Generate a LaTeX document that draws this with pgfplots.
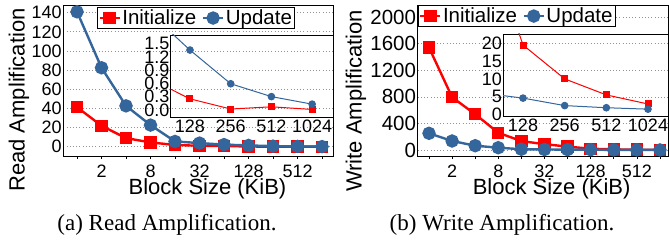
\documentclass[border=0pt]{standalone}
\usepackage{fontspec}
\setmainfont{Liberation Sans}
\newfontfamily\capfont{Liberation Serif}
\usepackage{pgfplots}
\pgfplotsset{compat=1.18}
\definecolor{myred}{RGB}{255,0,0}
\definecolor{myblue}{RGB}{52,101,155}
\pgfplotsset{
  mainax/.style={
    scale only axis, anchor=south west,
    axis line style={line width=0.9pt},
    /pgf/number format/assume math mode=true,
    /pgf/number format/1000 sep={},
    scaled y ticks=false,
    ymajorgrids,
    grid style={draw=gray!85, line width=0.8pt, dash pattern=on 0.8pt off 2.4pt},
    xtick={0,...,10}, xticklabels={,2,,8,,32,,128,,512,},
    tick align=outside, major tick length=3pt,
    xtick pos=left, ytick pos=left,
    ytick style={draw=none},
    xtick style={black, line width=0.6pt},
    tick label style={font=\fontsize{18}{18}\selectfont},
    yticklabel style={inner sep=1pt, xshift=2.5pt},
    xticklabel style={inner sep=1pt, yshift=-5pt},
    label style={font=\fontsize{22}{22}\selectfont},
    legend columns=2, legend cell align=left,
    legend style={font=\fontsize{20.5}{21}\selectfont, draw=black, line width=0.8pt,
      fill=white, inner sep=1pt, nodes={inner sep=1.5pt},
      /tikz/every even column/.append style={column sep=4pt}},
    legend image code/.code={\draw[mark repeat=2,mark phase=2,##1] plot coordinates {(0pt,0pt) (10pt,0pt) (20pt,0pt)};},
  },
  insetax/.style={
    scale only axis, anchor=south west,
    axis line style={line width=0.8pt},
    /pgf/number format/assume math mode=true,
    xtick={0,1,2,3}, xticklabels={128,256,512,1024},
    tick style={draw=none},
    tick label style={font=\fontsize{18}{18}\selectfont},
    yticklabel style={inner sep=1pt},
    xticklabel style={inner sep=1pt, yshift=-1.5pt},
    clip marker paths=true,
  },
  ini/.style={myred, line width=2.4pt, mark=square*, mark size=5pt, mark options={solid}},
  upd/.style={myblue, line width=2.4pt, mark=*, mark size=5.5pt, mark options={solid}},
  inis/.style={myred, line width=1pt, mark=square*, mark size=3pt, mark options={solid}},
  upds/.style={myblue, line width=1pt, mark=*, mark size=3.3pt, mark options={solid}},
}
\begin{document}
\begin{tikzpicture}
\useasboundingbox (0pt,0pt) rectangle (669pt,241pt);

% ---------- (a) Read amplification ----------
\begin{axis}[mainax, at={(63.3pt,85pt)}, width=270pt, height=151pt,
  xmin=-0.56, xmax=10.46, ymin=-9.7, ymax=148.1, ytick={0,20,...,140},
  xlabel={Block Size (KiB)}, ylabel={Read Amplification},
  xlabel style={at={(axis description cs:0.534,-0.2185)}, anchor=center},
  ylabel style={at={(axis description cs:-0.164,0.371)}, anchor=center},
  legend style={at={(axis description cs:0.125,0.987)}, anchor=north west}]
\addplot[ini] coordinates {(0,41.3) (1,21.9) (2,9.0) (3,4.5) (4,1.8) (5,1.0) (6,0.71) (7,0.25) (8,0.02) (9,0.07) (10,0.01)};
\addplot[upd] coordinates {(0,141) (1,82.5) (2,42.7) (3,22.6) (4,5.5) (5,3.8) (6,2.2) (7,1.35) (8,0.59) (9,0.30) (10,0.13)};
\legend{Initialize,Update}
\end{axis}
\begin{axis}[insetax, at={(170.7pt,124pt)}, width=162.6pt, height=82pt,
  xmin=-0.474, xmax=3.52, ymin=-0.16, ymax=1.69,
  ytick={0,0.3,0.6,0.9,1.2,1.5}, yticklabels={0.0,0.3,0.6,0.9,1.2,1.5}]
\addplot[inis] coordinates {(-1,0.71) (0,0.25) (1,0.02) (2,0.07) (3,0.01)};
\addplot[upds] coordinates {(-1,2.2) (0,1.35) (1,0.59) (2,0.30) (3,0.13)};
\end{axis}

% ---------- (b) Write amplification ----------
\begin{axis}[mainax, at={(417.7pt,85pt)}, width=250.3pt, height=151pt,
  xmin=-0.49, xmax=10.35, ymin=-90, ymax=2185, ytick={0,400,...,2000},
  yticklabel style={font=\fontsize{20.5}{20.5}\selectfont},
  xlabel={Block Size (KiB)}, ylabel={Write Amplification},
  xlabel style={at={(axis description cs:0.535,-0.2185)}, anchor=center},
  ylabel style={at={(axis description cs:-0.247,0.364)}, anchor=center},
  legend style={at={(axis description cs:0,1)}, anchor=north west}]
\addplot[ini] coordinates {(0,1544) (1,795) (2,539) (3,260) (4,135) (5,88) (6,52) (7,19.5) (8,10.0) (9,5.5) (10,2.95)};
\addplot[upd] coordinates {(0,252) (1,136) (2,65) (3,35) (4,12) (5,8) (6,6.06) (7,4.6) (8,2.5) (9,1.9) (10,1.5)};
\legend{Initialize,Update}
\end{axis}
\begin{axis}[insetax, at={(503pt,125pt)}, width=165pt, height=82pt,
  xmin=-0.48, xmax=3.48, ymin=-0.42, ymax=22.6,
  ytick={0,5,10,15,20}]
\addplot[inis] coordinates {(-1,54) (0,19.5) (1,10.0) (2,5.5) (3,2.95)};
\addplot[upds] coordinates {(-1,6.06) (0,4.6) (1,2.5) (2,1.9) (3,1.5)};
\end{axis}

\node[anchor=base, font=\capfont\fontsize{23}{24}\selectfont] at (167pt,11pt) {(a) Read Amplification.};
\node[anchor=base, font=\capfont\fontsize{23}{24}\selectfont] at (502pt,11pt) {(b) Write Amplification.};
\end{tikzpicture}
\end{document}
